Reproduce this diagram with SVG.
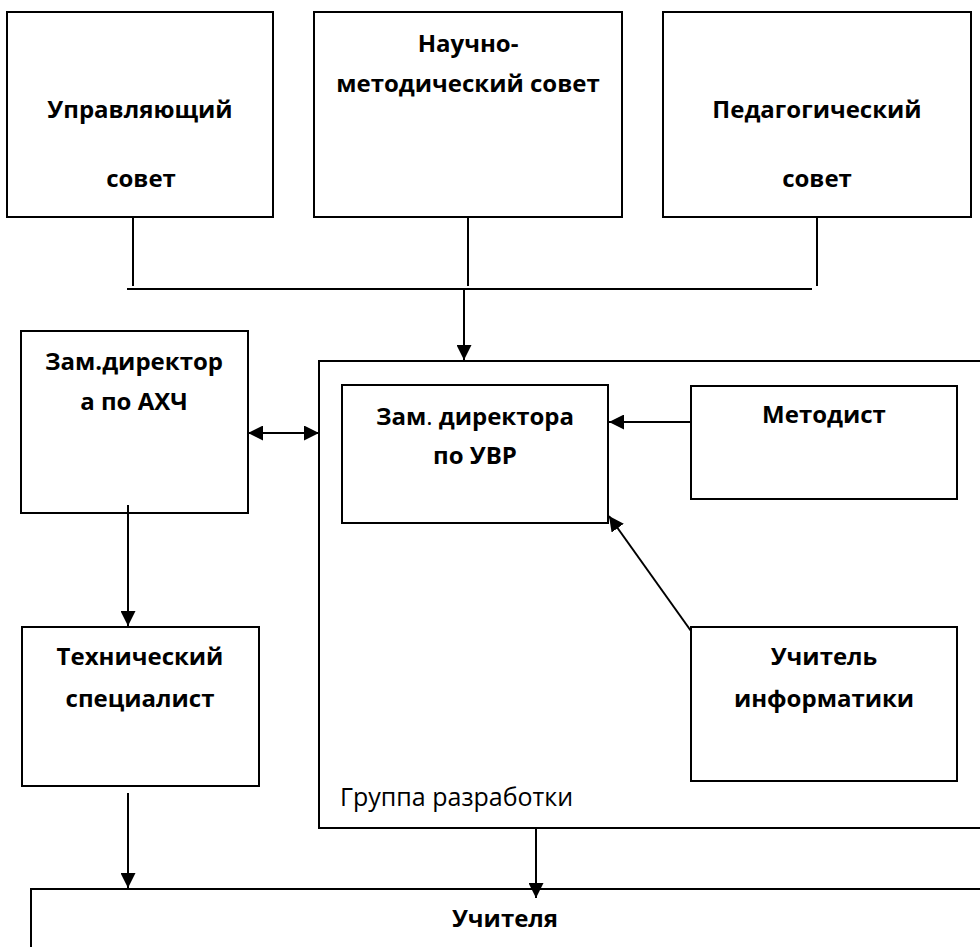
<svg xmlns="http://www.w3.org/2000/svg" width="980" height="947" viewBox="0 0 980 947">
<style>
.box{fill:#fff;stroke:#000;stroke-width:2}
.t{font-family:"Open Sans","Liberation Sans",sans-serif;font-weight:bold;font-size:24px;fill:#000;text-anchor:middle}
.g{font-family:"Open Sans","Liberation Sans",sans-serif;font-size:25px;fill:#000}
.c{fill:none;stroke:#000;stroke-width:2}
</style>
<defs>
<marker id="ah" viewBox="0 0 10 10" refX="10" refY="5" markerWidth="15" markerHeight="15" markerUnits="userSpaceOnUse" orient="auto-start-reverse">
<path d="M0,0 L10,5 L0,10 z" fill="#000"/>
</marker>
</defs>
<rect x="0" y="0" width="980" height="947" fill="#fff"/>
<g id="group-dev">
<rect class="box" x="319" y="361" width="670" height="467"/>
<text class="g" x="340" y="806">Группа разработки</text>
</g>
<g id="upr">
<rect class="box" x="7" y="12" width="266" height="205"/>
<text class="t" x="140" y="118">Управляющий</text>
<text class="t" x="141" y="187">совет</text>
</g>
<g id="nauch">
<rect class="box" x="314" y="12" width="308" height="205"/>
<text class="t" x="468" y="52">Научно-</text>
<text class="t" x="468" y="92">методический совет</text>
</g>
<g id="ped">
<rect class="box" x="663" y="12" width="308" height="205"/>
<text class="t" x="817" y="118">Педагогический</text>
<text class="t" x="817" y="187">совет</text>
</g>
<g id="ahch">
<rect class="box" x="21" y="331" width="227" height="182"/>
<text class="t" x="134" y="370">Зам.директор</text>
<text class="t" x="134" y="410">а по АХЧ</text>
</g>
<g id="uvr">
<rect class="box" x="342" y="385" width="266" height="138"/>
<text class="t" x="475" y="425">Зам<tspan font-weight="normal">.</tspan> директора</text>
<text class="t" x="475" y="464">по УВР</text>
</g>
<g id="metod">
<rect class="box" x="691" y="386" width="266" height="113"/>
<text class="t" x="824" y="423">Методист</text>
</g>
<g id="tech">
<rect class="box" x="22" y="627" width="237" height="159"/>
<text class="t" x="140" y="665">Технический</text>
<text class="t" x="140" y="707">специалист</text>
</g>
<g id="inf">
<rect class="box" x="691" y="627" width="266" height="154"/>
<text class="t" x="824" y="665">Учитель</text>
<text class="t" x="824" y="707">информатики</text>
</g>
<g id="teachers">
<rect class="box" x="31" y="889" width="960" height="80"/>
<text class="t" x="505" y="927">Учителя</text>
</g>
<g id="connectors">
<line class="c" x1="133" y1="217" x2="133" y2="286"/>
<line class="c" x1="468" y1="217" x2="468" y2="286"/>
<line class="c" x1="817" y1="217" x2="817" y2="286"/>
<line class="c" x1="127" y1="289" x2="812" y2="289"/>
<line class="c" x1="464" y1="289" x2="464" y2="360" marker-end="url(#ah)"/>
<line class="c" x1="248" y1="433" x2="319" y2="433" marker-start="url(#ah)" marker-end="url(#ah)"/>
<line class="c" x1="128" y1="505" x2="128" y2="626" marker-end="url(#ah)"/>
<line class="c" x1="691" y1="422" x2="609" y2="422" marker-end="url(#ah)"/>
<line class="c" x1="691" y1="631" x2="609" y2="516" marker-end="url(#ah)"/>
<line class="c" x1="128" y1="793" x2="128" y2="888" marker-end="url(#ah)"/>
<line class="c" x1="536" y1="828" x2="536" y2="898" marker-end="url(#ah)"/>
</g>
</svg>
